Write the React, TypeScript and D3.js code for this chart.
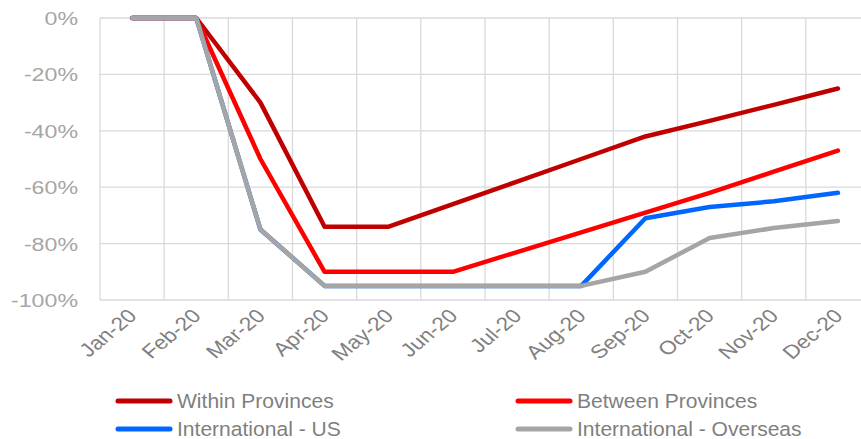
import React from "react";
import * as d3 from "d3";

const months = ["Jan-20","Feb-20","Mar-20","Apr-20","May-20","Jun-20","Jul-20","Aug-20","Sep-20","Oct-20","Nov-20","Dec-20"];
const withinProvinces = [0, 0, -30, -74, -74, -66, -58, -50, -42, -36.5, -30.8, -25];
const betweenProvinces = [0, 0, -50, -90, -90, -90, -83, -76, -69, -62, -54.5, -47];
const internationalUS = [0, 0, -75, -95, -95, -95, -95, -95, -71, -67, -65, -62];
const internationalOverseas = [0, 0, -75, -95, -95, -95, -95, -95, -90, -78, -74.5, -72];
const yTicks = [0, -20, -40, -60, -80, -100];

const seriesNames = ["Within Provinces", "Between Provinces", "International - US", "International - Overseas"];
const seriesColors = ["#C00000", "#FF0000", "#0066FF", "#A5A5A5"];
const seriesValues = [withinProvinces, betweenProvinces, internationalUS, internationalOverseas];

export default function App() {
  const W = 861, H = 439;
  const left = 100, right = 870, top = 18, bottom = 300;
  const x = d3.scaleBand<string>().domain(months).range([left, right]).padding(0);
  const y = d3.scaleLinear().domain([-100, 0]).range([bottom, top]);
  const cx = (m: string) => (x(m) as number) + x.bandwidth() / 2;
  const line = d3.line<number>()
    .x((_, i) => cx(months[i]))
    .y((v) => y(v));

  const gridColor = "#D9D9D9";
  const font = "'Liberation Sans', Arial, sans-serif";

  const legendPos = [
    { lx: 118, ly: 401 },
    { lx: 518, ly: 401 },
    { lx: 118, ly: 429 },
    { lx: 518, ly: 429 },
  ];

  return (
    <svg width={W} height={H} style={{ position: "absolute", left: 0, top: 0, background: "#fff" }} fontFamily={font}>
      {/* horizontal gridlines */}
      {yTicks.map((t) => (
        <line key={"h" + t} x1={left} x2={right} y1={y(t)} y2={y(t)} stroke={gridColor} strokeWidth={1.3} />
      ))}
      {/* vertical gridlines at category boundaries */}
      {months.map((m) => (
        <line key={"v" + m} x1={x(m) as number} x2={x(m) as number} y1={top} y2={bottom} stroke={gridColor} strokeWidth={1.3} />
      ))}
      {/* y tick labels */}
      {yTicks.map((t) => (
        <text key={"yl" + t} transform={`translate(78,${y(t) + 7}) scale(1.22,1)`} textAnchor="end" fontSize={19} fill="#A6A6A6">
          {`${t}%`}
        </text>
      ))}
      {/* x tick labels */}
      {months.map((m) => (
        <text key={"xl" + m} transform={`translate(${cx(m) + 6},${bottom + 17}) scale(1.2,1) rotate(-45)`} textAnchor="end" fontSize={19} fill="#808080">
          {m}
        </text>
      ))}
      {/* series lines */}
      {seriesValues.map((vals, i) => (
        <path key={"s" + i} d={line(vals) || ""} fill="none" stroke={seriesColors[i]} strokeWidth={4.5} strokeLinejoin="round" strokeLinecap="round" />
      ))}
      {/* legend */}
      {seriesNames.map((n, i) => (
        <g key={"lg" + i}>
          <line x1={legendPos[i].lx} x2={legendPos[i].lx + 52} y1={legendPos[i].ly} y2={legendPos[i].ly} stroke={seriesColors[i]} strokeWidth={5} strokeLinecap="round" />
          <text transform={`translate(${legendPos[i].lx + 59},${legendPos[i].ly + 7}) scale(1.08,1)`} fontSize={19.5} fill="#7F7F7F">
            {n}
          </text>
        </g>
      ))}
    </svg>
  );
}
